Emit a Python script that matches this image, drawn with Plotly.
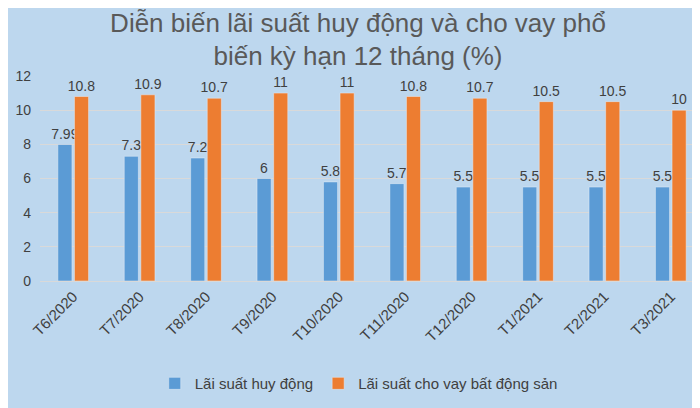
import plotly.graph_objects as go

# Dữ liệu
thang = ["T6/2020", "T7/2020", "T8/2020", "T9/2020", "T10/2020",
         "T11/2020", "T12/2020", "T1/2021", "T2/2021", "T3/2021"]
huy_dong = [7.99, 7.3, 7.2, 6, 5.8, 5.7, 5.5, 5.5, 5.5, 5.5]
cho_vay_bds = [10.8, 10.9, 10.7, 11, 11, 10.8, 10.7, 10.5, 10.5, 10]

NEN = "#bdd7ee"
CHU = "#404040"

fig = go.Figure()
fig.add_trace(go.Bar(
    x=thang, y=huy_dong, name="Lãi suất huy động",
    marker_color="#5b9bd5",
    text=[f"{v:g}" for v in huy_dong], textposition="outside",
    textfont=dict(size=14, color=CHU), cliponaxis=False,
))
fig.add_trace(go.Bar(
    x=thang, y=cho_vay_bds, name="Lãi suất cho vay bất động sản",
    marker_color="#ed7d31",
    text=[f"{v:g}" for v in cho_vay_bds], textposition="outside",
    textfont=dict(size=14, color=CHU), cliponaxis=False,
))

fig.update_layout(
    width=700, height=408,
    paper_bgcolor=NEN, plot_bgcolor=NEN,
    font=dict(family="Liberation Sans, Arial", color=CHU, size=13),
    title=dict(
        text="Diễn biến lãi suất huy động và cho vay phổ<br>biến kỳ hạn 12 tháng (%)",
        x=0.5, xanchor="center", yref="container", y=0.942, yanchor="middle",
        font=dict(size=26, color="#595959"),
    ),
    margin=dict(l=32, r=4, t=68, b=135),
    barmode="group", bargap=0.5, bargroupgap=0.15,
    uniformtext=dict(minsize=14, mode="show"),
    showlegend=True,
    legend=dict(
        orientation="h", x=0.48, xanchor="center", y=-0.42, yanchor="top",
        font=dict(size=15, color=CHU), itemwidth=30,
    ),
    xaxis=dict(tickangle=-45, tickfont=dict(size=15, color=CHU),
               showline=True, linecolor="#d9d9d9", ticks=""),
    yaxis=dict(range=[0, 12], dtick=2, gridcolor="#d9d9d9",
               tickfont=dict(size=14, color=CHU), zeroline=False,
               ticklabelstandoff=8),
)

fig.write_html("out.html")
